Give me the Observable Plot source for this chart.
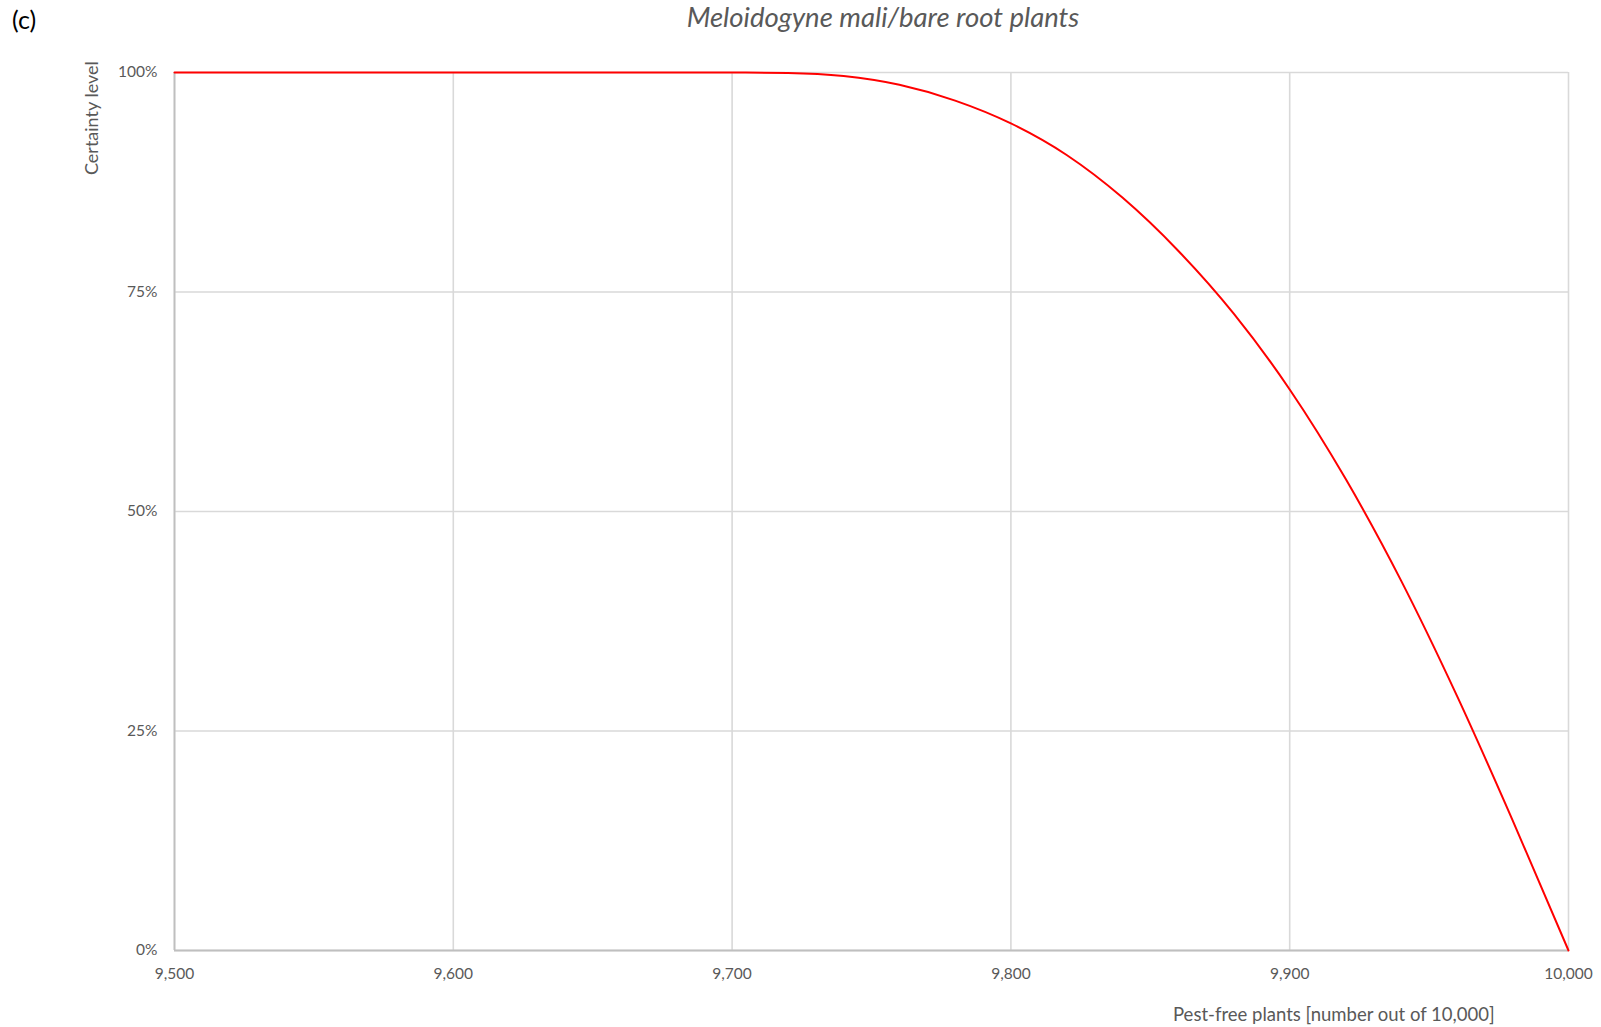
<!DOCTYPE html>
<html>
<head>
<meta charset="utf-8">
<script src="https://cdn.jsdelivr.net/npm/d3@7"></script>
<script src="https://cdn.jsdelivr.net/npm/@observablehq/plot@0.6"></script>
<style>
  html, body { margin: 0; padding: 0; background: #fff; }
  #wrap { position: relative; width: 1601px; height: 1027px; font-family: Lato, "Open Sans", sans-serif; color: #595959; }
  #panel { position: absolute; left: 12px; top: 4px; font-size: 25px; color: #000; }
  #title { position: absolute; left: 0; width: 1766px; top: 0px; text-align: center; font-size: 27.5px; font-style: italic; }
  #ylab { position: absolute; left: 80px; top: 62px; font-size: 18px; transform-origin: 0 0; transform: translate(0px, 113px) rotate(-90deg); white-space: nowrap; }
  #xlab { position: absolute; left: 1173px; top: 1003px; font-size: 18.5px; white-space: nowrap; }
  #chart { position: absolute; left: 0; top: 0; }
</style>
</head>
<body>
<div id="wrap">
  <div id="chart"></div>
  <div id="panel">(c)</div>
  <div id="title">Meloidogyne mali/bare root plants</div>
  <div id="ylab">Certainty level</div>
  <div id="xlab">Pest-free plants [number out of 10,000]</div>
</div>
<script>
// Pest-free plants (number out of 10,000)
const pestFree = [9500, 9600, 9700, 9720, 9740, 9760, 9780, 9800, 9820, 9840, 9860, 9880, 9900, 9920, 9940, 9960, 9980, 10000];
// Certainty level (%)
const certainty = [100, 100, 100, 99.95, 99.6, 98.6, 96.8, 94.2, 90.6, 85.75, 79.7, 72.5, 63.9, 53.75, 42.1, 29.0, 14.8, 0];
const xTicks = [9500, 9600, 9700, 9800, 9900, 10000];
const yTicks = [0, 25, 50, 75, 100];

const data = pestFree.map((x, i) => ({x, y: certainty[i]}));

const chart = Plot.plot({
  width: 1601,
  height: 1027,
  marginLeft: 174,
  marginRight: 33,
  marginTop: 72,
  marginBottom: 77,
  style: {fontFamily: "Lato, 'Open Sans', sans-serif", fontSize: "15.5px", color: "#595959", background: "#fff"},
  x: {domain: [9500, 10000]},
  y: {domain: [0, 100]},
  marks: [
    Plot.gridX(xTicks, {stroke: "#d9d9d9", strokeOpacity: 1, strokeWidth: 1.6}),
    Plot.gridY(yTicks, {stroke: "#d9d9d9", strokeOpacity: 1, strokeWidth: 1.6}),
    Plot.ruleX([9500], {stroke: "#bfbfbf", strokeWidth: 1.8}),
    Plot.ruleY([0], {stroke: "#bfbfbf", strokeWidth: 1.8}),
    Plot.axisX(xTicks, {tickSize: 0, tickPadding: 17, tickFormat: d3.format(","), label: null, fill: "#595959"}),
    Plot.axisY(yTicks, {tickSize: 0, tickPadding: 17, tickFormat: d => d + "%", label: null, fill: "#595959"}),
    Plot.line(data, {x: "x", y: "y", stroke: "#ff0000", strokeWidth: 2, curve: "monotone-x"})
  ]
});
document.getElementById("chart").appendChild(chart);
</script>
</body>
</html>
